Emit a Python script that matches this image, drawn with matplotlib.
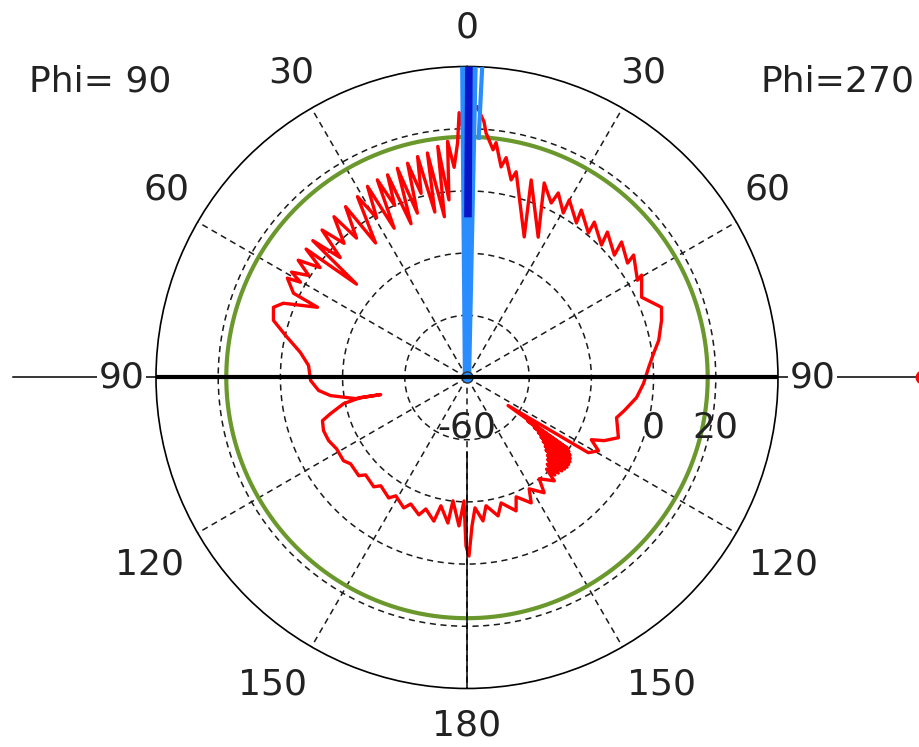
import matplotlib
matplotlib.use("Agg")
import matplotlib.pyplot as plt
import numpy as np

# Farfield cut.
# theta in degrees, clockwise from the top: 0..180 is the Phi=270 half (right),
# 180..360 is the Phi=90 half (left). gain in dB.
red_theta = [
    0.41, 1.30, 2.12, 3.81, 4.45, 6.53, 7.06, 9.20, 10.10, 12.59, 13.44,
    22.15, 18.0, 26.9, 21.65, 25.77, 26.32, 30.34, 29.95, 35.29, 34.32,
    40.03, 39.33, 45.43, 43.99, 50.30, 48.76, 54.53, 53.69, 60.29, 59.62,
    65.31, 67.82, 70.16, 73.63, 79.04, 82.65, 86.84, 91.95, 96.75, 101.87,
    105.03, 111.67, 114.70, 116.57, 119.13, 121.79, 124.33,
    125.2, 125.6, 126.0, 126.6, 127.0, 127.6, 128.1, 128.8, 129.3, 130.0,
    130.6, 131.3, 131.9, 132.6, 133.2, 134.0, 134.6, 135.5, 136.3, 137.2,
    138.0, 139.0, 139.81, 144.51, 146.20,
    150.82, 152.89, 157.62, 159.78, 164.78, 167.34, 171.56, 173.62, 176.48,
    178.07, 179.36, 180.34, 181.40,
    183.09, 186.49, 187.47, 191.48, 193.0, 197.38, 199.31, 203.96, 205.86,
    211.03, 213.02, 218.53, 220.47, 226.15, 227.78, 233.45, 235.99, 241.36,
    245.46, 249.66, 253.37, 255.17, 258.06, 259.32, 258.82, 259.29, 262.46,
    265.0, 268.9, 274.34, 278.56, 283.06, 286.45, 289.94, 292.02, 295.16,
    295.90, 298.95, 299.78,
    301.0, 302.8, 304.8, 306.8, 308.6, 310.2, 311.6, 313.4, 315.5, 317.5,
    320.4, 321.6, 324.6, 325.8, 328.8, 330.5, 332.5, 334.0, 335.6, 337.2,
    338.6, 340.0, 341.6, 343.2, 344.5, 346.0, 347.4, 349.0, 350.0, 352.0,
    352.8, 354.2, 355.3, 356.5, 357.7, 358.3, 359.3, 360.41,
]
red_gain = [
    29.4, 25.5, 27.2, 22.4, 18.9, 13.7, 16.1, 8.6, 11.8, 5.1, 8.0,
    -11.2, 6.8, -9.4, 7.3, 2.3, 6.2, 1.3, 5.9, 0.9, 5.2,
    0.7, 4.6, 0.7, 5.0, 1.6, 6.1, 3.4, 6.5, 3.1, 5.1,
    1.8, 4.1, 6.5, 5.2, 2.8, 0.5, -1.5, -3.2, -5.1, -8.3,
    -10.2, -7.6, -11.4, -15.3, -11.6, -14.1, -44.0,
    -20.5, -36.0, -19.5, -33.0, -18.5, -31.0, -17.8, -29.5, -17.2, -28.0,
    -17.0, -26.5, -16.8, -25.5, -17.0, -24.0, -17.2, -23.0, -17.5, -22.0,
    -17.8, -21.0, -16.5, -20.0, -15.4,
    -19.0, -14.7, -18.5, -14.3, -18.2, -14.4, -18.3, -13.6, -18.0,
    -12.2, -2.6, -5.8, -20.3,
    -12.2, -20.1, -12.8, -17.9, -12.6, -15.7, -13.2, -15.5, -13.4,
    -15.6, -13.8, -15.5, -13.8, -14.8, -13.0, -13.4, -12.1, -12.2,
    -11.1, -10.8, -11.5, -14.6, -19.5, -25.2, -31.7, -23.5, -15.7,
    -12.1, -9.7, -8.9, -5.8, -0.1, 4.9, 6.2, 3.7, -6.9,
    2.0, 6.0, 1.7,
    5.8, 0.5, 6.1, -1.0, 6.2, -13.5, 6.3, -3.9, 6.5, -1.5,
    7.1, -2.8, 7.4, -7.7, 8.0, -1.0, 9.3, -6.6, 9.8, 0.0,
    10.0, -7.4, 10.9, -4.8, 11.5, 1.0, 12.8, -5.8, 13.3, -7.8,
    14.9, -2.6, 16.2, 7.7, 15.5, 25.2, 18.0, 29.4,
]

r_min, r_max = -60, 40
ring_values = [-40, -20, 0, 20]
spoke_angles = list(range(0, 360, 30))
green_level = 17.4

# main lobe / beam width markers at the top
main_lobe_theta = 0.35
main_lobe_from = -8.5
beam_edges = [-0.5, 1.2]
side_marker_theta = 2.8
side_marker_from = 16.5

angle_values = [0, 30, 60, 90, 120, 150, 180]
angle_label_theta = [0, 30, 58, 90, 120.5, 147.6, 180]
angle_label_r = [52.5, 53.2, 53.8, 51.0, 58.3, 57.0, 51.9]

ring_label_text = ["-60", "0", "20"]
ring_label_r = [-60, 0, 20]

FONT = 26
TEXT = "#222222"

fig = plt.figure(figsize=(9.19, 7.47), dpi=100)
ax = fig.add_axes([0.16975, 0.0783, 0.6768, 0.8327], projection="polar")
ax.set_theta_zero_location("N")
ax.set_theta_direction(-1)
ax.set_ylim(r_min, r_max)

ax.set_xticks(np.deg2rad(spoke_angles))
ax.set_xticklabels([])
ax.set_yticks(ring_values)
ax.set_yticklabels([])
ax.tick_params(axis="y", length=0)
ax.tick_params(axis="x", length=5, width=1, direction="inout", color="#222222")
ax.grid(True, color="#1a1a1a", linewidth=1.1, linestyle=(0, (4, 3)))
ax.spines["polar"].set_linewidth(1.2)
ax.spines["polar"].set_color("black")

circle = np.linspace(0, 2 * np.pi, 400)
ax.plot(circle, np.full_like(circle, green_level), color="#6a982c", lw=3.0, zorder=3)

ax.plot(np.deg2rad(red_theta), red_gain, color="#ff0000", lw=2.4, zorder=4)

for t in beam_edges:
    ax.plot(np.deg2rad([t, t]), [r_min, r_max], color="#2a8dff", lw=6.0,
            solid_capstyle="butt", zorder=5)
ax.plot(np.deg2rad([main_lobe_theta] * 2), [main_lobe_from, r_max],
        color="#0a14c8", lw=5.5, solid_capstyle="butt", zorder=6)
ax.plot(np.deg2rad([side_marker_theta] * 2), [side_marker_from, r_max],
        color="#2a8dff", lw=3.0, solid_capstyle="butt", zorder=5)
ax.plot([0], [r_min], "o", ms=8, mfc="#2a8dff", mec="#333333", zorder=7)

# theta = 90 axis across the plot, thin outside
for t in (90, 270):
    ax.plot(np.deg2rad([t, t]), [r_min, r_max], color="black", lw=3.0,
            solid_capstyle="butt", zorder=7)
    ax.plot(np.deg2rad([t, t]), [r_max, 86.0], color="black", lw=1.1,
            clip_on=False, zorder=7)
ax.plot(np.deg2rad([180, 180]), [-36, r_max], color="black", lw=1.1, zorder=7)
ax.plot(np.deg2rad(90), 86.2, "o", color="red", ms=9, clip_on=False, zorder=8)

for v, t, r in zip(angle_values, angle_label_theta, angle_label_r):
    sides = [t] if v in (0, 180) else [t, 360 - t]
    for s in sides:
        box = dict(facecolor="white", edgecolor="none", pad=1) if v == 90 else None
        ax.text(np.deg2rad(s), r, str(v), ha="center", va="center",
                fontsize=FONT, color=TEXT, clip_on=False, bbox=box, zorder=9)

for txt, r in zip(ring_label_text, ring_label_r):
    ax.annotate(txt, xy=(np.deg2rad(90), r), xytext=(0, -36),
                textcoords="offset points", ha="center", va="center",
                fontsize=FONT, color=TEXT, zorder=9)

fig.text(100 / 919, 1 - 82 / 747, "Phi= 90", ha="center", va="center",
         fontsize=FONT, color=TEXT)
fig.text(837 / 919, 1 - 82 / 747, "Phi=270", ha="center", va="center",
         fontsize=FONT, color=TEXT)

fig.savefig("out.png", dpi=100, facecolor="white")
plt.close(fig)
